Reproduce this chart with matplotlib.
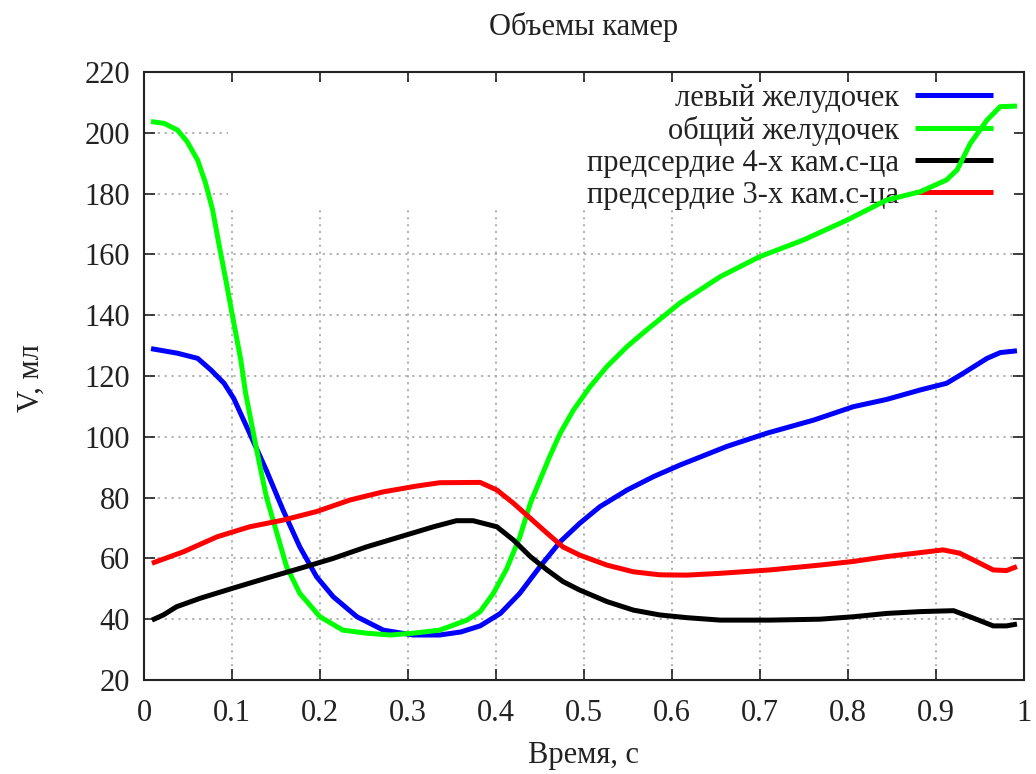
import matplotlib
matplotlib.use("Agg")
import matplotlib.pyplot as plt
from matplotlib.patches import Rectangle

plt.rcParams['font.family'] = ['Liberation Serif', 'DejaVu Serif']

title = "Объемы камер"
xlabel = "Время, с"
ylabel = "V, мл"
xticks = [0, 0.1, 0.2, 0.3, 0.4, 0.5, 0.6, 0.7, 0.8, 0.9, 1]
xticklabels = ["0", "0.1", "0.2", "0.3", "0.4", "0.5", "0.6", "0.7", "0.8", "0.9", "1"]
yticks = [20, 40, 60, 80, 100, 120, 140, 160, 180, 200, 220]

labels = ["левый желудочек", "общий желудочек",
          "предсердие 4-х кам.с-ца", "предсердие 3-х кам.с-ца"]
colors = ["#0000ff", "#00ff00", "#000000", "#ff0000"]

lv_t = [0.008, 0.038, 0.061, 0.076, 0.091, 0.102, 0.12, 0.139, 0.158, 0.177, 0.196,
        0.215, 0.242, 0.272, 0.306, 0.336, 0.36, 0.382, 0.405, 0.427, 0.45, 0.473,
        0.495, 0.518, 0.549, 0.579, 0.609, 0.662, 0.708, 0.761, 0.806, 0.844, 0.882,
        0.912, 0.931, 0.958, 0.973, 0.992]
lv_v = [129.0, 127.5, 125.8, 122.0, 117.6, 112.6, 101.2, 89.0, 75.9, 63.8, 54.0,
        47.4, 40.8, 36.4, 34.8, 34.8, 35.8, 37.8, 41.9, 48.5, 57.3, 65.5,
        71.5, 77.0, 82.5, 86.9, 90.7, 96.8, 101.2, 105.5, 109.9, 112.3, 115.4,
        117.6, 120.9, 125.8, 127.7, 128.3]

cv_t = [0.008, 0.023, 0.038, 0.049, 0.061, 0.070, 0.078, 0.085, 0.093, 0.100, 0.110,
        0.1155, 0.128, 0.139, 0.151, 0.162, 0.177, 0.2, 0.226, 0.253, 0.28, 0.306,
        0.336, 0.367, 0.382, 0.397, 0.412, 0.427, 0.439, 0.45, 0.461, 0.473, 0.488,
        0.507, 0.526, 0.549, 0.571, 0.609, 0.655, 0.7, 0.749, 0.799, 0.844, 0.882,
        0.912, 0.924, 0.939, 0.958, 0.973, 0.992]
cv_v = [203.7, 203.1, 200.9, 197.1, 191.0, 183.4, 174.6, 163.6, 151.6, 140.6, 125.3,
        114.3, 95.7, 80.3, 68.3, 57.3, 48.5, 40.8, 36.4, 35.4, 34.8, 35.4,
        36.4, 39.7, 42.5, 48.5, 56.5, 67.0, 78.1, 85.8, 93.5, 101.2, 108.8,
        116.5, 123.1, 129.7, 135.1, 144.0, 152.7, 159.3, 164.7, 171.3, 177.9, 180.6,
        184.5, 187.8, 196.5, 204.2, 208.6, 208.8]

a4_t = [0.009, 0.022, 0.037, 0.064, 0.101, 0.139, 0.177, 0.215, 0.253, 0.291, 0.329,
        0.355, 0.374, 0.401, 0.42, 0.439, 0.458, 0.476, 0.495, 0.526, 0.556, 0.586,
        0.617, 0.655, 0.711, 0.768, 0.806, 0.844, 0.882, 0.92, 0.943, 0.965, 0.98,
        0.992]
a4_v = [39.7, 41.4, 44.1, 46.9, 50.2, 53.5, 56.7, 60.0, 63.8, 67.1, 70.4,
        72.4, 72.4, 70.4, 66.0, 60.6, 56.2, 52.4, 49.6, 45.8, 43.0, 41.4,
        40.5, 39.7, 39.7, 40.0, 40.8, 41.9, 42.5, 42.8, 40.3, 37.8, 37.8,
        38.4]

a3_t = [0.009, 0.045, 0.083, 0.12, 0.158, 0.196, 0.234, 0.272, 0.31, 0.336, 0.382,
        0.401, 0.42, 0.439, 0.458, 0.476, 0.495, 0.526, 0.556, 0.586, 0.617, 0.655,
        0.711, 0.768, 0.806, 0.844, 0.882, 0.908, 0.927, 0.95, 0.965, 0.98, 0.992]
a3_v = [58.4, 62.2, 67.1, 70.4, 72.6, 75.4, 79.2, 81.9, 83.8, 84.9, 85.0,
        82.5, 78.1, 73.2, 68.3, 63.8, 61.1, 57.8, 55.6, 54.6, 54.5, 55.1,
        56.2, 57.8, 59.0, 60.6, 61.9, 62.8, 61.7, 58.4, 56.2, 56.0, 57.3]

series = [(lv_t, lv_v), (cv_t, cv_v), (a4_t, a4_v), (a3_t, a3_v)]

W, H = 1036, 774
fig = plt.figure(figsize=(W / 100, H / 100), dpi=100)
ax = fig.add_axes([144 / W, 1 - 680 / H, 880 / W, 608 / H])

for (t, v), c, lab in zip(series, colors, labels):
    ax.plot(t, v, color=c, lw=3.6, label=lab, zorder=3,
            solid_capstyle='butt', solid_joinstyle='round')

ax.set_xlim(0, 1)
ax.set_ylim(20, 220)
ax.set_xticks(xticks)
ax.set_xticklabels(xticklabels)
ax.set_yticks(yticks)
ax.tick_params(direction='in', top=True, right=True, length=8, width=1.2,
               labelsize=22, colors='#222222', pad=10)
ax.tick_params(axis='x', pad=14)
for s in ax.spines.values():
    s.set_linewidth(1.5)
    s.set_color('#222222')
ax.set_axisbelow(True)
ax.grid(True, linestyle=(0, (1.5, 3)), color='#a0a0a0', linewidth=1.1)

# key area (opaque, hides the grid like the gnuplot key box)
kx0 = (228 - 144) / 880
ky0 = (680 - 208) / 608
ax.add_patch(Rectangle((kx0, ky0), 1 - 10 / 880 - kx0, 1 - 10 / 608 - ky0,
                       transform=ax.transAxes, facecolor='white',
                       edgecolor='none', zorder=1))

leg = ax.legend(loc='upper right', bbox_to_anchor=((993 - 144) / 880, (680 - 84) / 608),
                markerfirst=False, fontsize=22, frameon=False,
                handlelength=2.55, handletextpad=0.52,
                labelspacing=0.1, borderpad=0.0, borderaxespad=0.0)
for txt in leg.get_texts():
    txt.set_color('#222222')
leg.set_zorder(2)

fig.text(584 / W, 1 - 27 / H, title, ha='center', va='center', fontsize=22,
         color='#222222')
fig.text(584 / W, 1 - 755 / H, xlabel, ha='center', va='center', fontsize=22,
         color='#222222')
fig.text(31 / W, 1 - 378 / H, ylabel, ha='center', va='center', fontsize=22,
         color='#222222', rotation=90)

fig.savefig("out.png", dpi=100)
